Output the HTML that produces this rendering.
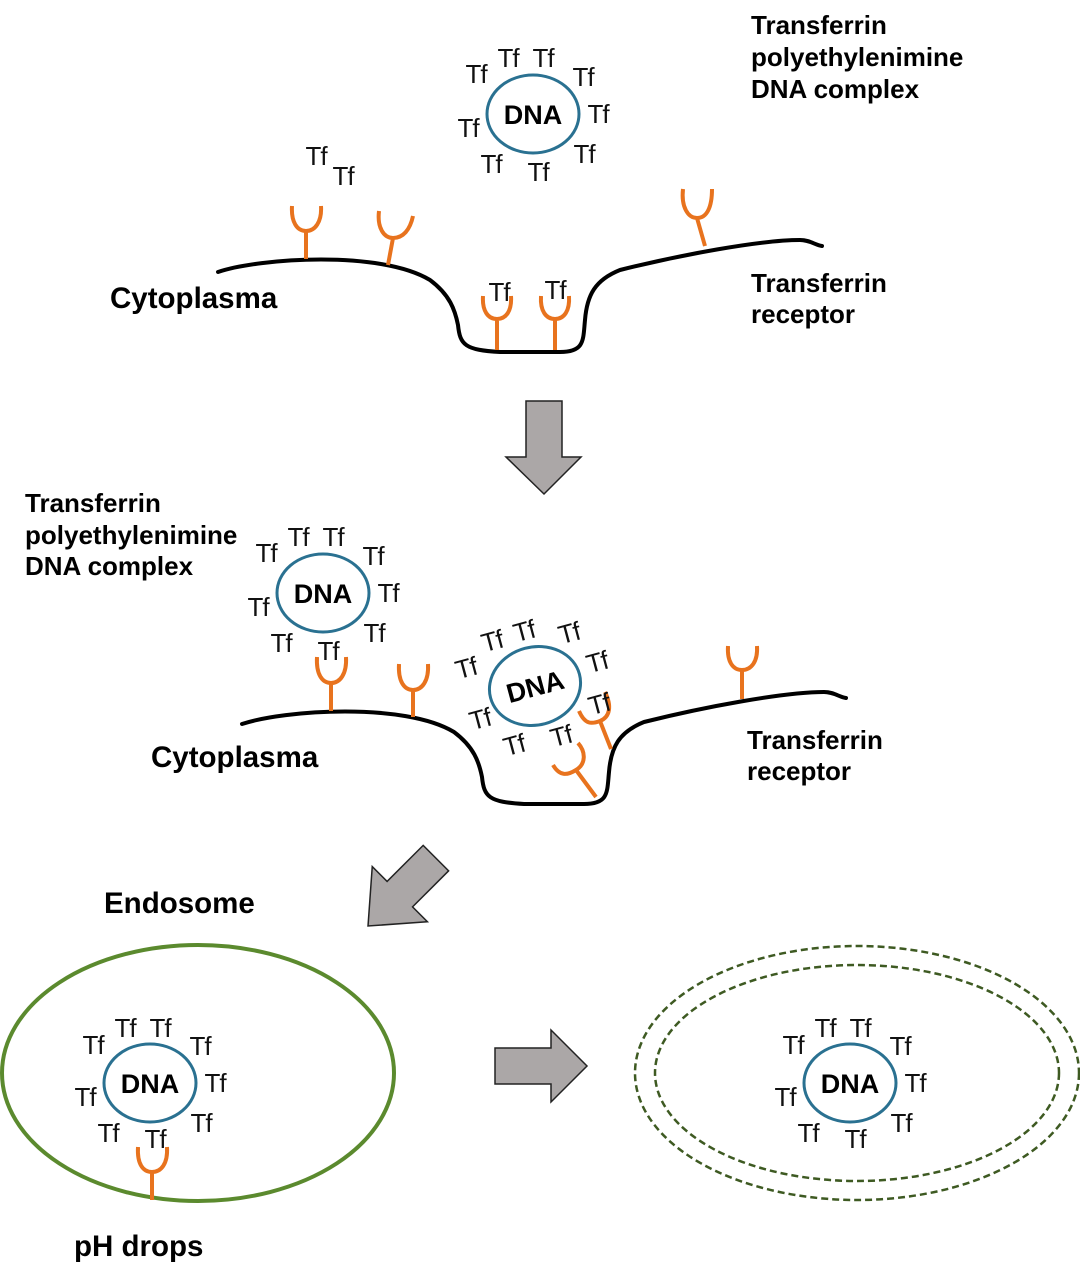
<!DOCTYPE html>
<html><head><meta charset="utf-8"><style>
html,body{margin:0;padding:0;background:#fff;}
svg{display:block;}
.tf{font-family:"Liberation Sans",sans-serif;font-size:26px;letter-spacing:-1px;fill:#111;text-anchor:middle;}
.b{font-family:"Liberation Sans",sans-serif;font-size:26px;font-weight:bold;fill:#000;}
.bb{font-family:"Liberation Sans",sans-serif;font-size:29.5px;font-weight:bold;fill:#000;}
.dna{font-family:"Liberation Sans",sans-serif;font-size:27px;font-weight:bold;fill:#000;text-anchor:middle;}
.r{stroke:#e8731e;stroke-width:4;fill:none;}
.m{stroke:#000;stroke-width:4;fill:none;stroke-linecap:round;}
.e{stroke:#2a7191;stroke-width:3;fill:none;}
.ar{fill:#aba7a7;stroke:#222;stroke-width:1.5;}
</style></head><body>
<svg width="1080" height="1281" viewBox="0 0 1080 1281" xmlns="http://www.w3.org/2000/svg">

<text class="b" x="751" y="34">Transferrin</text>
<text class="b" x="751" y="66">polyethylenimine</text>
<text class="b" x="751" y="98">DNA complex</text>
<text class="bb" x="110" y="308">Cytoplasma</text>
<text class="b" x="751" y="292">Transferrin</text>
<text class="b" x="751" y="323">receptor</text>

<text class="b" x="25" y="512">Transferrin</text>
<text class="b" x="25" y="544">polyethylenimine</text>
<text class="b" x="25" y="575">DNA complex</text>
<text class="bb" x="151" y="767">Cytoplasma</text>
<text class="b" x="747" y="749">Transferrin</text>
<text class="b" x="747" y="780">receptor</text>

<text class="bb" x="104" y="913">Endosome</text>
<text class="bb" x="74" y="1256">pH drops</text>

<g transform="translate(533,114)">
<ellipse class="e" cx="0" cy="0" rx="46" ry="39"/>
<text class="dna" x="0" y="10">DNA</text>
<text class="tf" x="-57" y="-31">Tf</text><text class="tf" x="-25" y="-47">Tf</text><text class="tf" x="10" y="-47">Tf</text><text class="tf" x="50" y="-28">Tf</text><text class="tf" x="65" y="9">Tf</text><text class="tf" x="51" y="49">Tf</text><text class="tf" x="5" y="67">Tf</text><text class="tf" x="-42" y="59">Tf</text><text class="tf" x="-65" y="23">Tf</text>
</g>
<text class="tf" x="316" y="165">Tf</text>
<text class="tf" x="343" y="185">Tf</text>

<path class="m" d="M218,272 C260,258 380,250 430,280 C450,295 455,310 458,325 C460,345 465,350 500,352 L560,352 C585,352 583,340 585,320 C587,295 595,280 620,270 C680,255 760,240 800,240 C810,240 815,245 822,246"/>
<g class="r">
<path d="M306,259 V231 M292,206 C291,222 297,231 306,231 C315,231 322,222 321,206"/>
<path d="M388,265 L393,238 M379,211 C377,228 384,238 393,238 C403,238 410,230 413,216"/>
<path d="M705,246 L697,218 M683,189 C681,207 688,218 697,218 C707,218 712,207 712,189"/>
<path d="M497,350 V319 M483,296 C482,311 488,319 497,319 C506,319 512,311 511,296"/>
<path d="M555,350 V319 M541,296 C540,311 546,319 555,319 C564,319 570,311 569,296"/>
</g>
<text class="tf" x="499" y="301">Tf</text>
<text class="tf" x="555" y="299">Tf</text>

<polygon class="ar" points="526,401 562,401 562,457 581,457 544,494 506,457 526,457"/>

<g transform="translate(323,593)">
<ellipse class="e" cx="0" cy="0" rx="46" ry="39"/>
<text class="dna" x="0" y="10">DNA</text>
<text class="tf" x="-57" y="-31">Tf</text><text class="tf" x="-25" y="-47">Tf</text><text class="tf" x="10" y="-47">Tf</text><text class="tf" x="50" y="-28">Tf</text><text class="tf" x="65" y="9">Tf</text><text class="tf" x="51" y="49">Tf</text><text class="tf" x="5" y="67">Tf</text><text class="tf" x="-42" y="59">Tf</text><text class="tf" x="-65" y="23">Tf</text>
</g>

<g transform="translate(24,452)">
<path class="m" d="M218,272 C260,258 380,250 430,280 C450,295 455,310 458,325 C460,345 465,350 500,352 L560,352 C585,352 583,340 585,320 C587,295 595,280 620,270 C680,255 760,240 800,240 C810,240 815,245 822,246"/>
</g>
<g class="r">
<path d="M331,711 V683 M317,657 C316,674 322,683 331,683 C340,683 347,674 346,657"/>
<path d="M413,717 V690 M399,664 C398,681 404,690 413,690 C422,690 429,681 428,664"/>
<path d="M742,699 V670 M728,646 C727,662 733,670 742,670 C751,670 758,662 757,646"/>
<path d="M611,749 L600,721 M579,711 C585,725 592,724 600,721 C610,717 612,706 605,692"/>
<path d="M596,797 L576,770 M553,765 C560,777 568,775 576,770 C586,764 586,752 578,743"/>
</g>

<g transform="translate(535,686) rotate(-15)">
<ellipse class="e" cx="0" cy="0" rx="46" ry="39"/>
<text class="dna" x="0" y="10">DNA</text>
</g>
<g class="tf">
<text x="466" y="677" transform="rotate(-15 466 668)">Tf</text>
<text x="492" y="650" transform="rotate(-15 492 641)">Tf</text>
<text x="524" y="640" transform="rotate(-15 524 631)">Tf</text>
<text x="569" y="642" transform="rotate(-15 569 633)">Tf</text>
<text x="597" y="671" transform="rotate(-15 597 662)">Tf</text>
<text x="599" y="713" transform="rotate(-15 599 704)">Tf</text>
<text x="561" y="745" transform="rotate(-15 561 736)">Tf</text>
<text x="514" y="754" transform="rotate(-15 514 745)">Tf</text>
<text x="480" y="728" transform="rotate(-15 480 719)">Tf</text>
</g>

<g transform="translate(397,897) rotate(45)">
<polygon class="ar" points="-18,-55 18,-55 18,-4 39,-4 0,41 -39,-4 -18,-4"/>
</g>

<ellipse cx="198" cy="1073" rx="196" ry="128" fill="none" stroke="#5b8a2e" stroke-width="4"/>
<g transform="translate(150,1083)">
<ellipse class="e" cx="0" cy="0" rx="46" ry="39"/>
<text class="dna" x="0" y="10">DNA</text>
<text class="tf" x="-57" y="-29">Tf</text><text class="tf" x="-25" y="-46">Tf</text><text class="tf" x="10" y="-46">Tf</text><text class="tf" x="50" y="-28">Tf</text><text class="tf" x="65" y="9">Tf</text><text class="tf" x="51" y="49">Tf</text><text class="tf" x="5" y="65">Tf</text><text class="tf" x="-42" y="59">Tf</text><text class="tf" x="-65" y="23">Tf</text>
</g>
<path class="r" d="M152,1200 V1172 M138,1147 C137,1164 143,1172 152,1172 C161,1172 168,1164 167,1147"/>

<polygon class="ar" points="495,1048 551,1048 551,1030 587,1066 551,1102 551,1084 495,1084"/>

<ellipse cx="857" cy="1073" rx="222" ry="127" fill="none" stroke="#3e5a22" stroke-width="2.5" stroke-dasharray="7,4"/>
<ellipse cx="857" cy="1073" rx="202" ry="108" fill="none" stroke="#3e5a22" stroke-width="2.5" stroke-dasharray="7,4"/>
<g transform="translate(850,1083)">
<ellipse class="e" cx="0" cy="0" rx="46" ry="39"/>
<text class="dna" x="0" y="10">DNA</text>
<text class="tf" x="-57" y="-29">Tf</text><text class="tf" x="-25" y="-46">Tf</text><text class="tf" x="10" y="-46">Tf</text><text class="tf" x="50" y="-28">Tf</text><text class="tf" x="65" y="9">Tf</text><text class="tf" x="51" y="49">Tf</text><text class="tf" x="5" y="65">Tf</text><text class="tf" x="-42" y="59">Tf</text><text class="tf" x="-65" y="23">Tf</text>
</g>
</svg>
</body></html>
